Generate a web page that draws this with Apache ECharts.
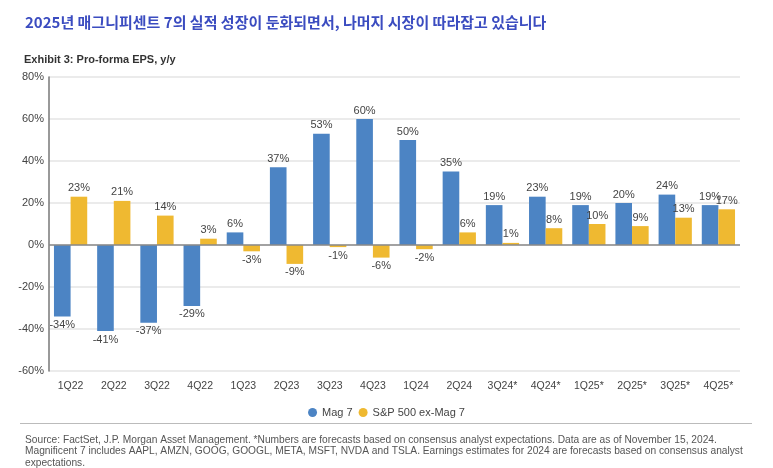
<!DOCTYPE html>
<html lang="ko">
<head>
<meta charset="UTF-8">
<title>Pro-forma EPS</title>
<script src="https://cdn.jsdelivr.net/npm/echarts@6/dist/echarts.min.js"></script>
</head>
<style>
html,body{margin:0;padding:0;background:#fff}
#chartBox{width:773px;height:468px}
</style>
<body>
<div id="chartBox"></div>
<script>
// 데이터
const quarters = ['1Q22','2Q22','3Q22','4Q22','1Q23','2Q23','3Q23','4Q23','1Q24','2Q24','3Q24*','4Q24*','1Q25*','2Q25*','3Q25*','4Q25*'];
const mag7 = [-34, -41, -37, -29, 6, 37, 53, 60, 50, 35, 19, 23, 19, 20, 24, 19];
const spExMag7 = [23, 21, 14, 3, -3, -9, -1, -6, -2, 6, 1, 8, 10, 9, 13, 17];
const yTicks = {min: -60, max: 80, step: 20};

const fontFam = '"Liberation Sans", Arial, sans-serif';
const footnote = 'Source: FactSet, J.P. Morgan Asset Management. *Numbers are forecasts based on consensus analyst expectations. Data are as of November 15, 2024.\n' +
    'Magnificent 7 includes AAPL, AMZN, GOOG, GOOGL, META, MSFT, NVDA and TSLA. Earnings estimates for 2024 are forecasts based on consensus analyst\n' +
    'expectations.';

function makeSeries(name, values, color) {
    return {
        type: 'bar',
        name: name,
        data: values.map(v => ({
            value: v,
            label: {position: v < 0 ? 'bottom' : 'top'}
        })),
        itemStyle: {color: color},
        barGap: '0%',
        barCategoryGap: '23%',
        label: {
            show: true,
            fontSize: 11,
            color: '#444',
            distance: 3,
            formatter: p => p.value + '%'
        }
    };
}

let chartObj = echarts.init(document.getElementById('chartBox'));
let series = [
    makeSeries('Mag 7', mag7, '#4c84c4'),
    makeSeries('S&P 500 ex-Mag 7', spExMag7, '#efb931')
];
// 0% 기준선
series[0].markLine = {
    silent: true,
    symbol: 'none',
    label: {show: false},
    lineStyle: {color: '#8a8a8a', width: 1.5, type: 'solid'},
    data: [{yAxis: 0}]
};

chartObj.setOption({
    animation: false,
    textStyle: {fontFamily: fontFam},
    title: [
        {
            text: '2025년 매그니피센트 7의 실적 성장이 둔화되면서, 나머지 시장이 따라잡고 있습니다',
            left: 20, top: 10,
            textStyle: {fontSize: 15, fontWeight: 'bold', color: '#3b4cc0', fontFamily: '"Noto Sans CJK KR", sans-serif'}
        },
        {
            text: 'Exhibit 3: Pro-forma EPS, y/y',
            left: 19, top: 49,
            textStyle: {fontSize: 11, fontWeight: 'bold', color: '#333', fontFamily: fontFam}
        },
        {
            text: footnote,
            left: 20, top: 429,
            textStyle: {fontSize: 10.2, fontWeight: 'normal', color: '#555', lineHeight: 11.7, fontFamily: fontFam}
        }
    ],
    graphic: [
        {type: 'line', shape: {x1: 20, y1: 423.5, x2: 752, y2: 423.5}, style: {stroke: '#bbb', lineWidth: 1}}
    ],
    grid: {left: 49, right: 33, top: 77, bottom: 97, containLabel: false},
    legend: {
        data: ['Mag 7', 'S&P 500 ex-Mag 7'],
        top: 402, left: 'center',
        icon: 'circle', itemWidth: 9, itemHeight: 9, itemGap: 6,
        textStyle: {fontSize: 11, color: '#444'}
    },
    xAxis: {
        type: 'category',
        data: quarters,
        position: 'bottom',
        axisLine: {show: false, onZero: false},
        axisTick: {show: false},
        axisLabel: {fontSize: 10.5, color: '#444', margin: 10, interval: 0}
    },
    yAxis: {
        type: 'value',
        min: yTicks.min, max: yTicks.max, interval: yTicks.step,
        axisLine: {show: true, lineStyle: {color: '#777', width: 1.5}},
        axisTick: {show: false},
        axisLabel: {fontSize: 11, color: '#444', margin: 5, formatter: v => v + '%'},
        splitLine: {lineStyle: {color: '#e4e4e4', width: 1.5}}
    },
    series: series
});
</script>
</body>
</html>
